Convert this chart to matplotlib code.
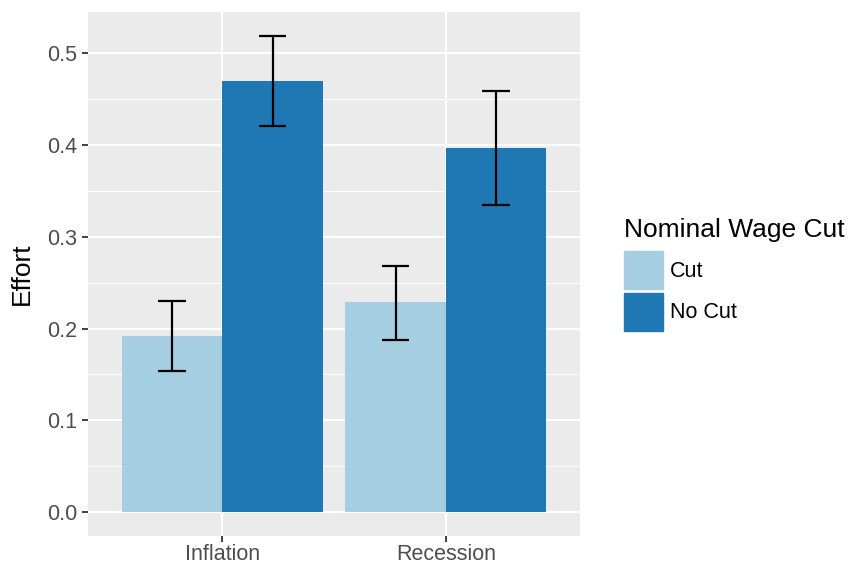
import numpy as np
import matplotlib.pyplot as plt
from matplotlib.patches import Rectangle

plt.rcParams['font.family'] = ['Liberation Sans', 'DejaVu Sans']

conditions = ["Inflation", "Recession"]
groups = ["Cut", "No Cut"]
effort = {"Cut": [0.192, 0.229], "No Cut": [0.470, 0.397]}
lower = {"Cut": [0.154, 0.188], "No Cut": [0.421, 0.335]}
upper = {"Cut": [0.230, 0.268], "No Cut": [0.519, 0.459]}
colors = {"Cut": "#A6CEE3", "No Cut": "#1F78B4"}

fig = plt.figure(figsize=(8.5, 5.66), dpi=100)
ax = fig.add_axes([88/850, 30/566, 492/850, 524/566])
ax.set_facecolor("#EBEBEB")
for s in ax.spines.values():
    s.set_visible(False)

x = np.arange(1, len(conditions) + 1)
bw = 0.45
offsets = {"Cut": -bw/2, "No Cut": bw/2}
for g in groups:
    xs = x + offsets[g]
    ax.bar(xs, effort[g], width=bw, color=colors[g], zorder=3)
    lo = np.array(lower[g])
    hi = np.array(upper[g])
    ax.vlines(xs, lo, hi, color="black", lw=1.6, zorder=4)
    ax.hlines(lo, xs - 0.0625, xs + 0.0625, color="black", lw=1.6, zorder=4)
    ax.hlines(hi, xs - 0.0625, xs + 0.0625, color="black", lw=1.6, zorder=4)

ax.set_xlim(0.4, 2.6)
ax.set_ylim(-0.026, 0.545)
yt = np.arange(0, 0.51, 0.1)
ax.set_yticks(yt)
ax.set_yticklabels([f"{v:.1f}" for v in yt])
ax.set_yticks(np.arange(0.05, 0.55, 0.1), minor=True)
ax.set_xticks(x)
ax.set_xticklabels(conditions)

ax.grid(True, which="major", color="white", lw=1.5, zorder=0)
ax.grid(True, which="minor", axis="y", color="white", lw=0.75, zorder=0)
ax.set_axisbelow(True)
ax.tick_params(which="major", length=4, width=1.3, color="#333333",
               labelcolor="#4D4D4D", labelsize=15.5, pad=4)
ax.tick_params(axis="x", which="major", pad=1.5)
ax.tick_params(which="minor", length=0)
ax.set_ylabel("Effort", fontsize=19, labelpad=9)

# legend
fig.text(624/850, 1 - 237/566, "Nominal Wage Cut", fontsize=19, ha="left", va="baseline")
key_y = [251, 293]
for g, ky in zip(groups, key_y):
    fig.add_artist(Rectangle((624/850, 1 - (ky + 38)/566), 39/850, 38/566,
                             transform=fig.transFigure, color=colors[g]))
    fig.text(670/850, 1 - (ky + 20)/566, g, fontsize=15.5, ha="left", va="center")

fig.savefig("out.png", dpi=100)
